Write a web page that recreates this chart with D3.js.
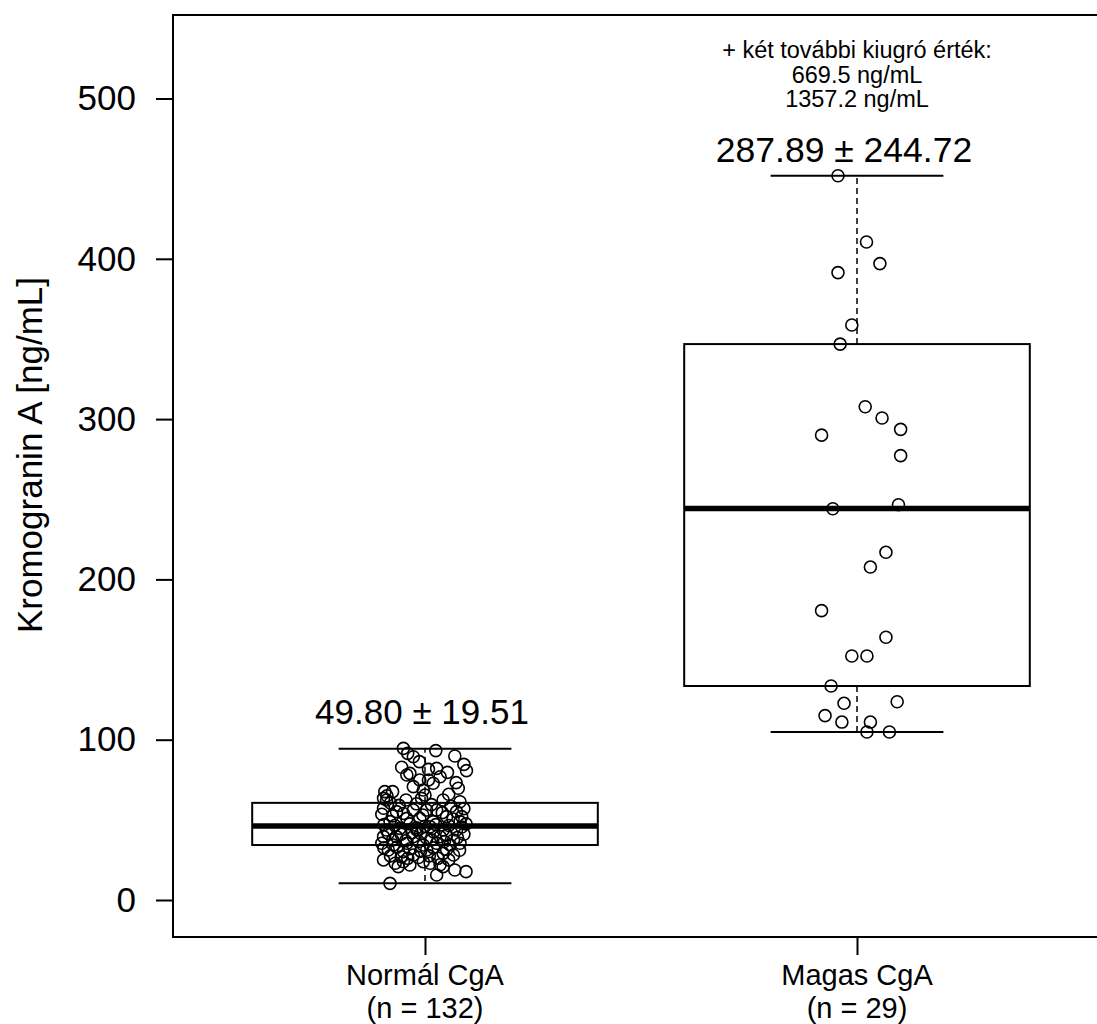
<!DOCTYPE html>
<html lang="hu">
  <head>
    <meta charset="UTF-8">
    <title>Kromogranin A boxplot</title>
    <script src="https://d3js.org/d3.v7.min.js"></script>
    <style>
      body { margin: 0; background: #fff; }
      text { font-family: Arial, "Liberation Sans", sans-serif; fill: #000; }
    </style>
  </head>
  <body>
    <svg id="svg-1" width="1097" height="1024"></svg>

  <script>
    // groups
    var groups = ["Normál CgA", "Magas CgA"];
    var groupN = ["(n = 132)", "(n = 29)"];
    var meanSd = ["49.80 ± 19.51", "287.89 ± 244.72"];

    // box statistics
    var whiskLo = [10.5, 104.8];
    var q1 = [34.3, 133.5];
    var med = [46.2, 244.2];
    var q3 = [60.6, 346.8];
    var whiskHi = [94.4, 451.8];

    var yTicks = [0, 100, 200, 300, 400, 500];

    // jittered points: [jitter, value]
    var normalPts = [
      [-0.050,94.6],[0.025,93.2],[-0.040,91.5],[-0.027,89.4],[-0.013,86.3],[0.069,89.8],[0.090,84.6],[0.096,80.7],
      [-0.054,82.8],[0.008,81.5],[0.027,82.1],[0.052,79.6],[-0.042,78.0],[-0.035,79.0],[-0.012,74.9],[0.008,74.9],
      [0.035,76.9],[0.019,72.8],[-0.027,70.7],[0.072,73.2],[0.077,69.7],[-0.004,68.6],
      [-0.093,67.6],[-0.075,67.6],[-0.096,63.4],[-0.089,62.4],[-0.044,62.4],[-0.008,63.4],[0.042,62.4],[0.081,61.3],
      [-0.096,57.2],[-0.066,55.1],[-0.027,56.1],[0.004,56.1],[0.027,56.1],[0.073,55.1],[0.085,52.0],[-0.081,48.9],
      [-0.042,50.9],[-0.012,50.9],[0.019,48.9],[0.050,52.0],[0.081,48.9],[-0.089,43.7],[-0.058,44.7],[-0.019,43.7],
      [0.012,45.7],[0.042,43.7],[0.073,43.7],[-0.096,39.5],[-0.066,39.5],[-0.027,39.5],[0.004,38.5],[0.035,39.5],
      [0.066,37.4],[-0.100,35.4],[-0.073,34.3],[-0.042,35.4],[-0.004,34.3],[0.027,35.4],[0.058,34.3],[0.081,35.4],
      [-0.085,31.2],[-0.050,30.1],[-0.027,28.1],[0.004,31.2],[0.042,29.1],[0.066,28.1],
      [-0.096,25.0],[-0.069,22.9],[-0.050,23.9],[-0.035,21.8],[-0.062,20.8],[-0.004,23.9],[0.012,22.9],[0.035,22.0],
      [0.042,20.8],[0.027,15.6],[0.069,18.7],[0.095,17.7],[-0.081,10.4],
      [-0.080,60.5],[-0.060,59.0],[-0.020,60.0],[0.015,59.5],[0.060,58.5],[0.090,57.0],
      [-0.100,53.5],[-0.075,52.5],[-0.050,54.0],[-0.005,53.0],[0.040,54.5],[0.065,50.5],[0.095,47.5],
      [-0.095,47.0],[-0.070,46.5],[-0.035,47.5],[-0.020,45.0],[0.000,46.0],[0.025,47.0],[0.055,46.5],[0.085,45.5],
      [-0.085,41.5],[-0.055,41.0],[-0.030,42.0],[-0.010,41.5],[0.020,42.5],[0.050,40.5],[0.090,41.0],
      [-0.075,37.5],[-0.045,37.0],[-0.015,36.5],[0.015,37.5],[0.045,36.5],[0.075,39.0],
      [-0.095,32.5],[-0.065,33.0],[-0.035,32.0],[-0.010,30.5],[0.020,32.5],[0.050,31.5],[0.080,31.0],
      [-0.080,27.5],[-0.055,27.0],[-0.040,26.0],[-0.015,26.5],[0.010,27.5],[0.030,26.0],[0.055,25.0],
      [-0.088,65.0],[0.000,65.5],[0.055,66.0]
    ];
    var magasPts = [
      [-0.044,451.8],[0.022,410.5],[0.053,397.0],[-0.044,391.4],[-0.012,358.7],[-0.039,346.8],
      [0.019,307.7],[0.058,300.7],[-0.082,290.0],[0.101,293.6],[0.101,277.2],[-0.056,244.1],[0.096,246.6],
      [0.067,216.9],[0.031,207.7],[-0.082,180.5],[0.067,163.9],[-0.012,152.2],[0.023,152.2],[-0.060,133.5],
      [-0.030,122.7],[0.093,123.7],[-0.074,115.0],[-0.035,111.0],[0.031,111.0],[0.023,104.8],[0.075,104.8],
      // the two extra outliers lie above the plotted range
      [0.000,669.5],[0.000,1357.2]
    ];
    var points = [normalPts, magasPts];

    var noteLines = ["+ két további kiugró érték:", "669.5 ng/mL", "1357.2 ng/mL"];

    var svg1 = d3.select("#svg-1");
    // plot region edges (window.top is read-only, so no "top" here)
    var pLeft = 173, pRight = 1097, pTop = 15, pBottom = 937;

    var x = d3.scaleLinear().domain([1, 2]).range([425, 857]);
    var y = d3.scaleLinear().domain([0, 500]).range([900, 98.5]);

    var boxW = 0.8, capW = 0.4;

    svg1.append("clipPath").attr("id", "plotclip")
      .append("rect").attr("x", pLeft).attr("y", pTop)
      .attr("width", pRight - pLeft).attr("height", pBottom - pTop);

    var g = svg1.append("g");

    // boxes
    groups.forEach(function(name, i) {
      var c = i + 1;
      // dashed whiskers
      g.append("line").attr("x1", x(c)).attr("x2", x(c))
        .attr("y1", y(q3[i])).attr("y2", y(whiskHi[i]))
        .attr("stroke", "#000").attr("stroke-width", 1.5).attr("stroke-dasharray", "6,4");
      g.append("line").attr("x1", x(c)).attr("x2", x(c))
        .attr("y1", y(q1[i])).attr("y2", y(whiskLo[i]))
        .attr("stroke", "#000").attr("stroke-width", 1.5).attr("stroke-dasharray", "6,4");
      // caps
      [whiskLo[i], whiskHi[i]].forEach(function(v) {
        g.append("line").attr("x1", x(c - capW / 2)).attr("x2", x(c + capW / 2))
          .attr("y1", y(v)).attr("y2", y(v))
          .attr("stroke", "#000").attr("stroke-width", 2);
      });
      g.append("rect")
        .attr("x", x(c - boxW / 2)).attr("y", y(q3[i]))
        .attr("width", x(c + boxW / 2) - x(c - boxW / 2))
        .attr("height", y(q1[i]) - y(q3[i]))
        .attr("fill", "none").attr("stroke", "#000").attr("stroke-width", 2);
      g.append("line").attr("x1", x(c - boxW / 2)).attr("x2", x(c + boxW / 2))
        .attr("y1", y(med[i])).attr("y2", y(med[i]))
        .attr("stroke", "#000").attr("stroke-width", 5.5);
    });

    // points
    var pg = svg1.append("g").attr("clip-path", "url(#plotclip)");
    points.forEach(function(pts, i) {
      pg.selectAll(".pt" + i)
        .data(pts)
        .enter()
        .append("circle")
        .attr("class", "pt" + i)
        .attr("cx", function(d) { return x(i + 1 + d[0]); })
        .attr("cy", function(d) { return y(d[1]); })
        .attr("r", 6)
        .attr("fill", "none")
        .attr("stroke", "#000")
        .attr("stroke-width", 1.6);
    });

    // frame (left, top, bottom)
    svg1.append("path")
      .attr("d", "M" + pRight + "," + pTop + "H" + pLeft + "V" + pBottom + "H" + pRight)
      .attr("fill", "none").attr("stroke", "#000").attr("stroke-width", 2);

    // y axis
    var yAxis = svg1.append("g")
      .attr("transform", "translate(" + pLeft + ",0)")
      .call(d3.axisLeft(y).tickValues(yTicks).tickSize(17).tickPadding(20));
    yAxis.select(".domain").remove();
    yAxis.selectAll(".tick line").attr("stroke", "#000").attr("stroke-width", 2);
    yAxis.selectAll(".tick text").attr("font-size", "35px").attr("fill", "#000")
      .attr("font-family", "Arial, 'Liberation Sans', sans-serif");

    // x axis ticks and labels
    var xAxis = svg1.append("g")
      .attr("transform", "translate(0," + pBottom + ")")
      .call(d3.axisBottom(x).tickValues([1, 2]).tickSize(18).tickFormat(""));
    xAxis.select(".domain").remove();
    xAxis.selectAll(".tick line").attr("stroke", "#000").attr("stroke-width", 2);

    groups.forEach(function(name, i) {
      svg1.append("text").attr("x", x(i + 1)).attr("y", 985)
        .attr("text-anchor", "middle").attr("font-size", "29px").text(name);
      svg1.append("text").attr("x", x(i + 1)).attr("y", 1018)
        .attr("text-anchor", "middle").attr("font-size", "29px").text(groupN[i]);
    });

    // mean ± sd labels
    svg1.append("text").attr("x", x(1) - 3).attr("y", 724)
      .attr("text-anchor", "middle").attr("font-size", "35px").text(meanSd[0]);
    svg1.append("text").attr("x", x(2) - 13).attr("y", 162)
      .attr("text-anchor", "middle").attr("font-size", "35.5px").text(meanSd[1]);

    // outlier note
    noteLines.forEach(function(t, i) {
      svg1.append("text").attr("x", x(2)).attr("y", 58 + i * 24.5)
        .attr("text-anchor", "middle").attr("font-size", "23.5px").text(t);
    });

    // y axis title
    svg1.append("text")
      .attr("transform", "translate(42,455) rotate(-90)")
      .attr("text-anchor", "middle")
      .attr("font-size", "35px")
      .text("Kromogranin A [ng/mL]");
  </script>
  </body>
</html>
